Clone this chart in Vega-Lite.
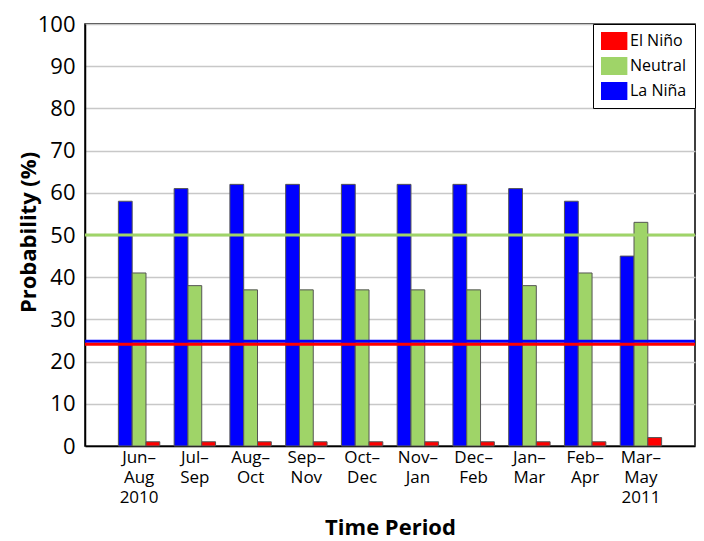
{
  "$schema": "https://vega.github.io/schema/vega-lite/v6.json",
  "width": 610,
  "height": 422,
  "autosize": {"type": "none"},
  "padding": {"left": 85, "top": 24, "right": 9, "bottom": 95},
  "background": "white",
  "config": {
    "font": "Open Sans",
    "view": {"stroke": "black", "strokeWidth": 1.5},
    "axis": {"labelColor": "black", "titleColor": "black", "domainColor": "black", "domainWidth": 1.5, "ticks": false}
  },
  "layer": [
    {
      "data": {
        "values": [
          {"period": "Jun–\nAug\n2010", "series": "La Niña", "prob": 58},
          {"period": "Jun–\nAug\n2010", "series": "Neutral", "prob": 41},
          {"period": "Jun–\nAug\n2010", "series": "El Niño", "prob": 1},
          {"period": "Jul–\nSep", "series": "La Niña", "prob": 61},
          {"period": "Jul–\nSep", "series": "Neutral", "prob": 38},
          {"period": "Jul–\nSep", "series": "El Niño", "prob": 1},
          {"period": "Aug–\nOct", "series": "La Niña", "prob": 62},
          {"period": "Aug–\nOct", "series": "Neutral", "prob": 37},
          {"period": "Aug–\nOct", "series": "El Niño", "prob": 1},
          {"period": "Sep–\nNov", "series": "La Niña", "prob": 62},
          {"period": "Sep–\nNov", "series": "Neutral", "prob": 37},
          {"period": "Sep–\nNov", "series": "El Niño", "prob": 1},
          {"period": "Oct–\nDec", "series": "La Niña", "prob": 62},
          {"period": "Oct–\nDec", "series": "Neutral", "prob": 37},
          {"period": "Oct–\nDec", "series": "El Niño", "prob": 1},
          {"period": "Nov–\nJan", "series": "La Niña", "prob": 62},
          {"period": "Nov–\nJan", "series": "Neutral", "prob": 37},
          {"period": "Nov–\nJan", "series": "El Niño", "prob": 1},
          {"period": "Dec–\nFeb", "series": "La Niña", "prob": 62},
          {"period": "Dec–\nFeb", "series": "Neutral", "prob": 37},
          {"period": "Dec–\nFeb", "series": "El Niño", "prob": 1},
          {"period": "Jan–\nMar", "series": "La Niña", "prob": 61},
          {"period": "Jan–\nMar", "series": "Neutral", "prob": 38},
          {"period": "Jan–\nMar", "series": "El Niño", "prob": 1},
          {"period": "Feb–\nApr", "series": "La Niña", "prob": 58},
          {"period": "Feb–\nApr", "series": "Neutral", "prob": 41},
          {"period": "Feb–\nApr", "series": "El Niño", "prob": 1},
          {"period": "Mar–\nMay\n2011", "series": "La Niña", "prob": 45},
          {"period": "Mar–\nMay\n2011", "series": "Neutral", "prob": 53},
          {"period": "Mar–\nMay\n2011", "series": "El Niño", "prob": 2}
        ]
      },
      "mark": {"type": "bar", "stroke": "#555555", "strokeWidth": 1},
      "encoding": {
        "x": {
          "field": "period", "type": "nominal", "sort": null,
          "scale": {"paddingInner": 0, "paddingOuter": 0.47},
          "title": "Time Period",
          "axis": {
            "labelAngle": 0, "labelFontSize": 17, "labelLineHeight": 20, "labelPadding": 3,
            "labelBaseline": "top", "labelExpr": "split(datum.value, '\\n')",
            "titleFontSize": 22, "titleFontWeight": "bold", "titleBaseline": "alphabetic", "titleY": 88, "titlePadding": 0
          }
        },
        "xOffset": {
          "field": "series", "type": "nominal",
          "scale": {"domain": ["La Niña", "Neutral", "El Niño"], "paddingInner": 0, "paddingOuter": 0.52}
        },
        "y": {
          "field": "prob", "type": "quantitative",
          "scale": {"domain": [0, 100], "nice": false},
          "title": "Probability (%)",
          "axis": {
            "values": [0, 10, 20, 30, 40, 50, 60, 70, 80, 90, 100],
            "labelFontSize": 22, "labelPadding": 10,
            "grid": true, "gridColor": "#c8c8c8", "gridWidth": 1.5,
            "titleFontSize": 22, "titleFontWeight": "bold", "titleAngle": -90,
            "titleX": -50, "titleY": 208, "titleAlign": "center", "titleBaseline": "alphabetic"
          }
        },
        "color": {
          "field": "series", "type": "nominal",
          "scale": {"domain": ["El Niño", "Neutral", "La Niña"], "range": ["#ff0000", "#9fd468", "#0000ff"]},
          "legend": {
            "title": null, "orient": "top-right", "offset": 0,
            "strokeColor": "black", "fillColor": "white", "padding": 8,
            "labelFontSize": 16, "labelColor": "black", "labelOffset": 11,
            "symbolType": "M-1,-1H1.93V1H-1Z", "symbolSize": 324, "symbolStrokeWidth": 0, "symbolOpacity": 1,
            "rowPadding": 7,
            "encode": {"legend": {"update": {"strokeWidth": {"value": 1.5}}}}
          }
        }
      }
    },
    {
      "data": {
        "values": [
          {"series": "Neutral", "level": 50},
          {"series": "La Niña", "level": 24.8},
          {"series": "El Niño", "level": 24.1}
        ]
      },
      "mark": {"type": "rule", "strokeWidth": 3},
      "encoding": {
        "y": {"field": "level", "type": "quantitative"},
        "color": {"field": "series", "type": "nominal"}
      }
    }
  ]
}
